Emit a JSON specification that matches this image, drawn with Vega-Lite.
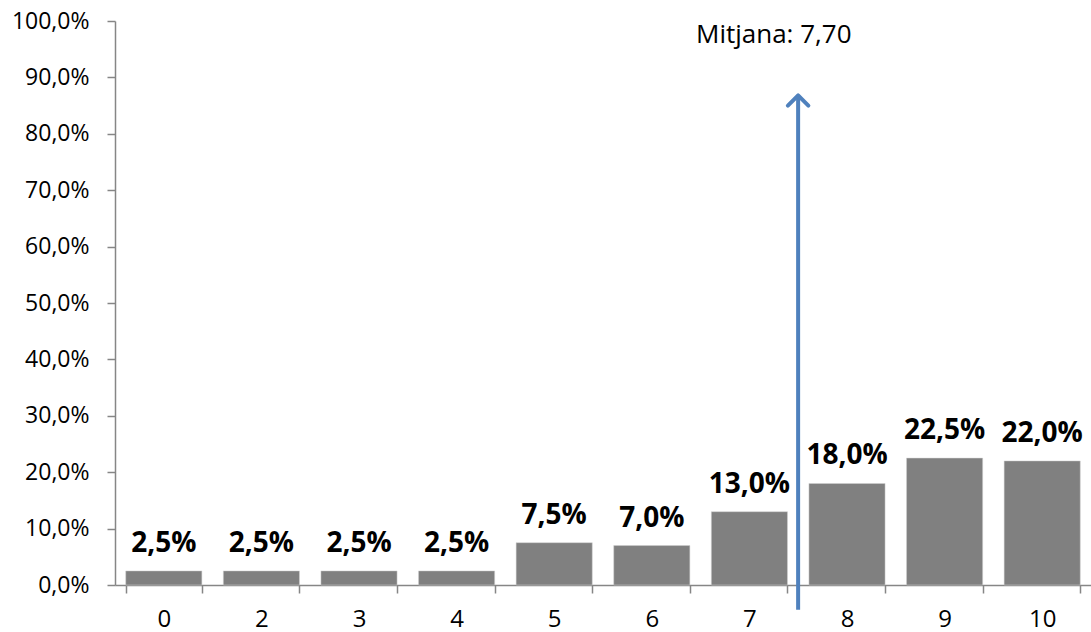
{
  "$schema": "https://vega.github.io/schema/vega-lite/v6.json",
  "width": 976,
  "height": 564,
  "autosize": "none",
  "padding": {"left": 115, "top": 21, "right": 0, "bottom": 47},
  "config": {
    "view": {"stroke": null},
    "font": "Open Sans",
    "locale": {"number": {"decimal": ",", "thousands": ".", "grouping": [3], "currency": ["", " €"]}}
  },
  "datasets": {
    "bars": [
      {"nota": "0", "pct": 0.025},
      {"nota": "2", "pct": 0.025},
      {"nota": "3", "pct": 0.025},
      {"nota": "4", "pct": 0.025},
      {"nota": "5", "pct": 0.075},
      {"nota": "6", "pct": 0.07},
      {"nota": "7", "pct": 0.13},
      {"nota": "8", "pct": 0.18},
      {"nota": "9", "pct": 0.225},
      {"nota": "10", "pct": 0.22}
    ],
    "mean": [
      {"nota": "7", "y0": -0.044, "y1": 0.868, "ytext": 0.961, "label": "Mitjana: 7,70"}
    ]
  },
  "layer": [
    {
      "data": {"name": "bars"},
      "mark": {"type": "bar", "color": "#808080", "stroke": "#d0d0d0", "strokeWidth": 0.5},
      "encoding": {
        "x": {
          "field": "nota", "type": "ordinal", "sort": null,
          "scale": {"paddingInner": 0.22, "paddingOuter": 0.11},
          "axis": {
            "title": null, "labelAngle": 0, "labelFontSize": 24, "labelColor": "#000000",
            "domainColor": "#868686", "tickColor": "#868686", "tickSize": 8,
            "tickBand": "extent", "labelPadding": 14, "domainWidth": 1.5, "tickWidth": 1.5
          }
        },
        "y": {
          "field": "pct", "type": "quantitative",
          "scale": {"domain": [0, 1], "nice": false},
          "axis": {
            "title": null, "values": [0, 0.1, 0.2, 0.3, 0.4, 0.5, 0.6, 0.7, 0.8, 0.9, 1],
            "format": ".1%", "grid": false, "labelFontSize": 23, "labelColor": "#000000",
            "domainColor": "#868686", "tickColor": "#868686", "tickSize": 8,
            "labelPadding": 18, "domainWidth": 1.5, "tickWidth": 1.5
          }
        }
      }
    },
    {
      "data": {"name": "bars"},
      "mark": {"type": "text", "fontWeight": "bold", "fontSize": 28, "dy": -19, "baseline": "alphabetic", "color": "#000000"},
      "encoding": {
        "x": {"field": "nota", "type": "ordinal", "sort": null},
        "y": {"field": "pct", "type": "quantitative"},
        "text": {"field": "pct", "type": "quantitative", "format": ".1%"}
      }
    },
    {
      "data": {"name": "mean"},
      "mark": {"type": "rule", "color": "#4F81BD", "strokeWidth": 4},
      "encoding": {
        "x": {"field": "nota", "type": "ordinal", "sort": null, "bandPosition": 1.14},
        "y": {"field": "y0", "type": "quantitative"},
        "y2": {"field": "y1"}
      }
    },
    {
      "data": {"name": "mean"},
      "mark": {"type": "point", "shape": "M-1,1L0,0L1,1", "filled": false, "size": 420, "stroke": "#4F81BD", "strokeWidth": 4, "opacity": 1, "strokeCap": "round", "strokeJoin": "round"},
      "encoding": {
        "x": {"field": "nota", "type": "ordinal", "sort": null, "bandPosition": 1.14},
        "y": {"field": "y1", "type": "quantitative"}
      }
    },
    {
      "data": {"name": "mean"},
      "mark": {"type": "text", "fontSize": 26, "baseline": "alphabetic", "align": "center", "color": "#000000"},
      "encoding": {
        "x": {"field": "nota", "type": "ordinal", "sort": null, "bandPosition": 0.82},
        "y": {"field": "ytext", "type": "quantitative"},
        "text": {"field": "label"}
      }
    }
  ]
}
